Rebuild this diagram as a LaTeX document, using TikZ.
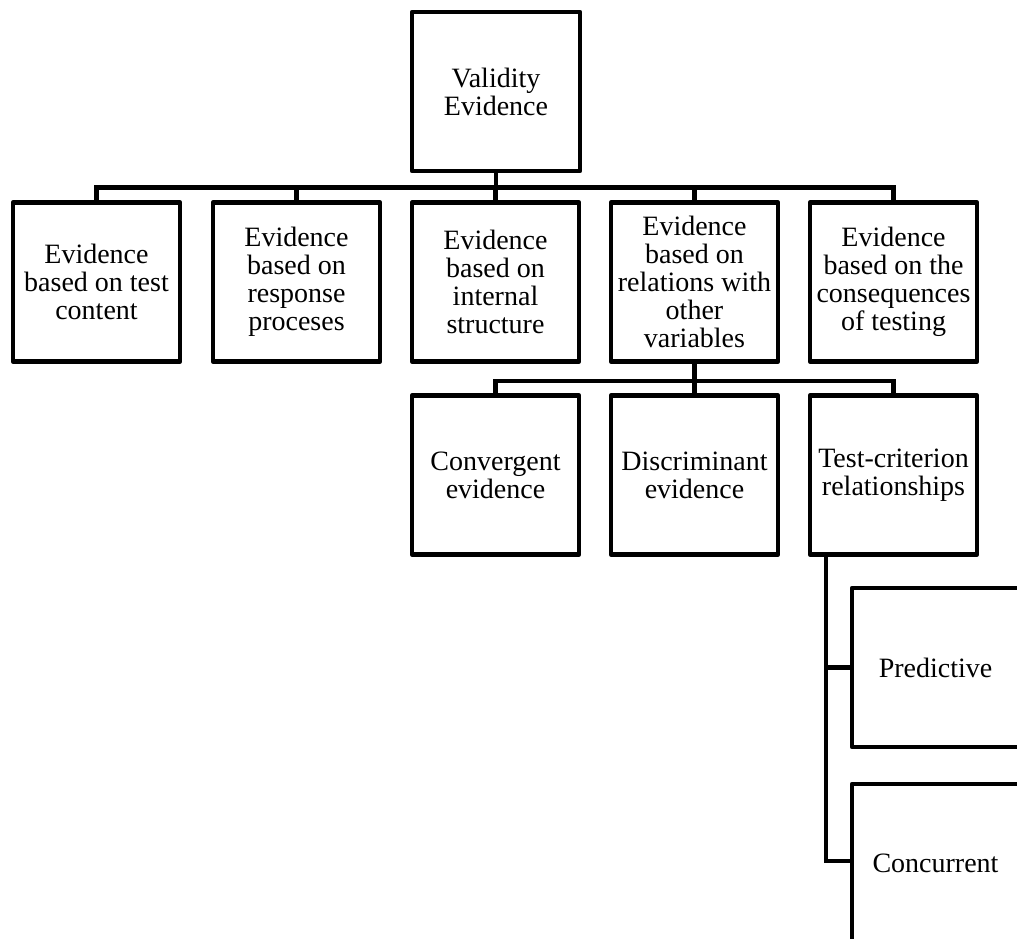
\documentclass[tikz,border=0pt]{standalone}
\usepackage{fontspec}
\setmainfont{Liberation Serif}
\begin{document}
\begin{tikzpicture}[x=1pt,y=-1pt,
  box/.style={draw, line width=4.5pt, line join=round, minimum width=167pt, minimum height=159pt,
    inner sep=0pt, align=center, font=\fontsize{28}{28}\selectfont},
  conn/.style={line width=4.5pt, line join=miter}]
\clip (0,0) rectangle (1017,938);
\fill[white] (0,0) rectangle (1017,938);
\node[box, minimum width=168pt] (top) at (496,91.5) {Validity\\Evidence};
\node[box] (b1) at (96.5,282) {Evidence\\based on test\\content};
\node[box] (b2) at (296.5,282) {Evidence\\based on\\response\\proceses};
\node[box] (b3) at (495.5,282) {Evidence\\based on\\internal\\structure};
\node[box] (b4) at (694.5,282) {Evidence\\based on\\relations with\\other\\variables};
\node[box] (b5) at (893.5,282) {Evidence\\based on the\\consequences\\of testing};
\node[box] (c1) at (495.5,475) {Convergent\\evidence};
\node[box] (c2) at (694.5,475) {Discriminant\\evidence};
\node[box] (c3) at (893.5,475) {Test-criterion\\relationships};
\node[box] (pred) at (935.5,667.5) {Predictive};
\node[box] (conc) at (935.5,863.5) {Concurrent};
\foreach \n in {b1,b2,b3,b4,b5}
  \draw[conn] (top.south) -- ++(0,14) -| (\n.north);
\foreach \n in {c1,c2,c3}
  \draw[conn] (b4.south) -- ++(0,17) -| (\n.north);
\coordinate (tc) at ([xshift=18pt]c3.south west);
\draw[conn] (tc) |- (pred.west);
\draw[conn] (tc) |- ([yshift=2.5pt]conc.west);
\end{tikzpicture}
\end{document}
